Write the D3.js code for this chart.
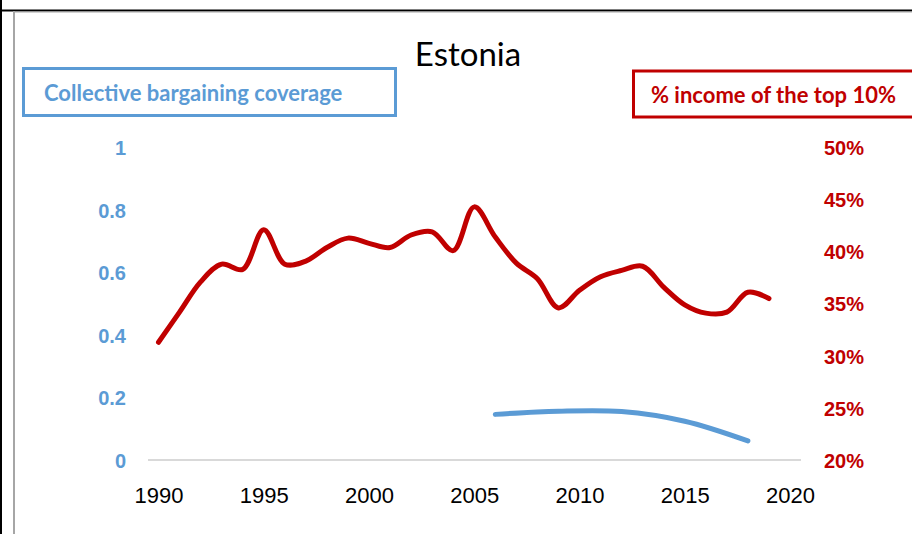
<!DOCTYPE html>
<html>
<head>
<meta charset="utf-8">
<script src="https://cdn.jsdelivr.net/npm/d3@7"></script>
<style>
  body { margin: 0; background: #fff; }
  svg { display: block; font-family: Lato, "Open Sans", sans-serif; }
</style>
</head>
<body>
<svg id="chart" width="912" height="534"></svg>
<script>
// données
const incomeYears = d3.range(1990, 2020);
const incomeTop10 = [31.3, 34.2, 37.1, 38.8, 38.3, 42.1, 38.8, 39.1, 40.4, 41.3,
                     40.8, 40.4, 41.6, 41.9, 40.1, 44.3, 41.4, 38.9, 37.4, 34.6,
                     36.3, 37.6, 38.2, 38.6, 36.6, 34.9, 34.1, 34.2, 36.1, 35.5];
const coverageYears = [2006, 2009, 2012, 2015, 2018];
const coverage = [0.146, 0.156, 0.155, 0.124, 0.061];
const xTicks = [1990, 1995, 2000, 2005, 2010, 2015, 2020];
const leftTicks = [0, 0.2, 0.4, 0.6, 0.8, 1];
const rightTicks = [0.20, 0.25, 0.30, 0.35, 0.40, 0.45, 0.50];

const svg = d3.select("#chart");
const blue = "#5b9bd5", red = "#c00000";

// cadre
svg.append("line").attr("x1", 0).attr("x2", 912).attr("y1", 10.5).attr("y2", 10.5)
  .style("stroke", "#000").style("stroke-width", 2);
svg.append("line").attr("x1", 1).attr("x2", 1).attr("y1", 0).attr("y2", 534)
  .style("stroke", "#000").style("stroke-width", 2);
svg.append("line").attr("x1", 13).attr("x2", 912).attr("y1", 12).attr("y2", 12)
  .style("stroke", "#a6a6a6").style("stroke-width", 1);
svg.append("line").attr("x1", 14).attr("x2", 14).attr("y1", 11).attr("y2", 534)
  .style("stroke", "#a6a6a6").style("stroke-width", 2);

// échelles
const x = d3.scaleLinear().domain([1990, 2020]).range([158.5, 790]);
const yL = d3.scaleLinear().domain([0, 1]).range([460, 147.5]);
const yR = d3.scaleLinear().domain([0.20, 0.50]).range([460, 147.5]);

// axe horizontal
svg.append("line").attr("x1", 148).attr("x2", 801).attr("y1", 460).attr("y2", 460)
  .style("stroke", "#d9d9d9").style("stroke-width", 2);

svg.append("g")
  .attr("transform", "translate(0,460)")
  .call(d3.axisBottom(x).tickValues(xTicks).tickFormat(d3.format("d")).tickSize(0).tickPadding(0))
  .call(g => g.select(".domain").remove())
  .selectAll("text")
  .attr("dy", 0).attr("y", 43)
  .style("font-size", "22px")
  .style("fill", "#000");

svg.append("g")
  .attr("transform", "translate(126,0)")
  .call(d3.axisLeft(yL).tickValues(leftTicks).tickFormat(d => d === 0 || d === 1 ? d : d.toFixed(1)).tickSize(0).tickPadding(0))
  .call(g => g.select(".domain").remove())
  .selectAll("text")
  .attr("dy", "0.36em")
  .style("font-size", "20px")
  .style("font-weight", "bold")
  .style("fill", blue);

svg.append("g")
  .attr("transform", "translate(824,0)")
  .call(d3.axisRight(yR).tickValues(rightTicks).tickFormat(d3.format(".0%")).tickSize(0).tickPadding(0))
  .call(g => g.select(".domain").remove())
  .selectAll("text")
  .attr("dy", "0.36em")
  .style("font-size", "20px")
  .style("font-weight", "bold")
  .style("fill", red);

// courbes
const redLine = d3.line()
  .x((d, i) => x(incomeYears[i]))
  .y(d => yR(d / 100))
  .curve(d3.curveCatmullRom);
svg.append("path")
  .attr("d", redLine(incomeTop10))
  .style("fill", "none").style("stroke", red)
  .style("stroke-width", 5).style("stroke-linecap", "round").style("stroke-linejoin", "round");

const blueLine = d3.line()
  .x((d, i) => x(coverageYears[i]))
  .y(d => yL(d))
  .curve(d3.curveCatmullRom);
svg.append("path")
  .attr("d", blueLine(coverage))
  .style("fill", "none").style("stroke", blue)
  .style("stroke-width", 5).style("stroke-linecap", "round");

// titre
svg.append("text")
  .attr("x", 468).attr("y", 66)
  .attr("text-anchor", "middle")
  .style("font-size", "33px")
  .style("fill", "#000")
  .text("Estonia");

// légendes
svg.append("rect").attr("x", 23.5).attr("y", 68.5).attr("width", 372).attr("height", 47)
  .style("fill", "none").style("stroke", blue).style("stroke-width", 3);
svg.append("text").attr("x", 44).attr("y", 101)
  .style("font-size", "22px").style("font-weight", "bold").style("fill", blue)
  .text("Collective bargaining coverage");

svg.append("rect").attr("x", 633.5).attr("y", 71).attr("width", 300).attr("height", 46)
  .style("fill", "none").style("stroke", red).style("stroke-width", 3);
svg.append("text").attr("x", 651).attr("y", 103)
  .style("font-size", "22px").style("font-weight", "bold").style("fill", red)
  .text("% income of the top 10%");
</script>
</body>
</html>
